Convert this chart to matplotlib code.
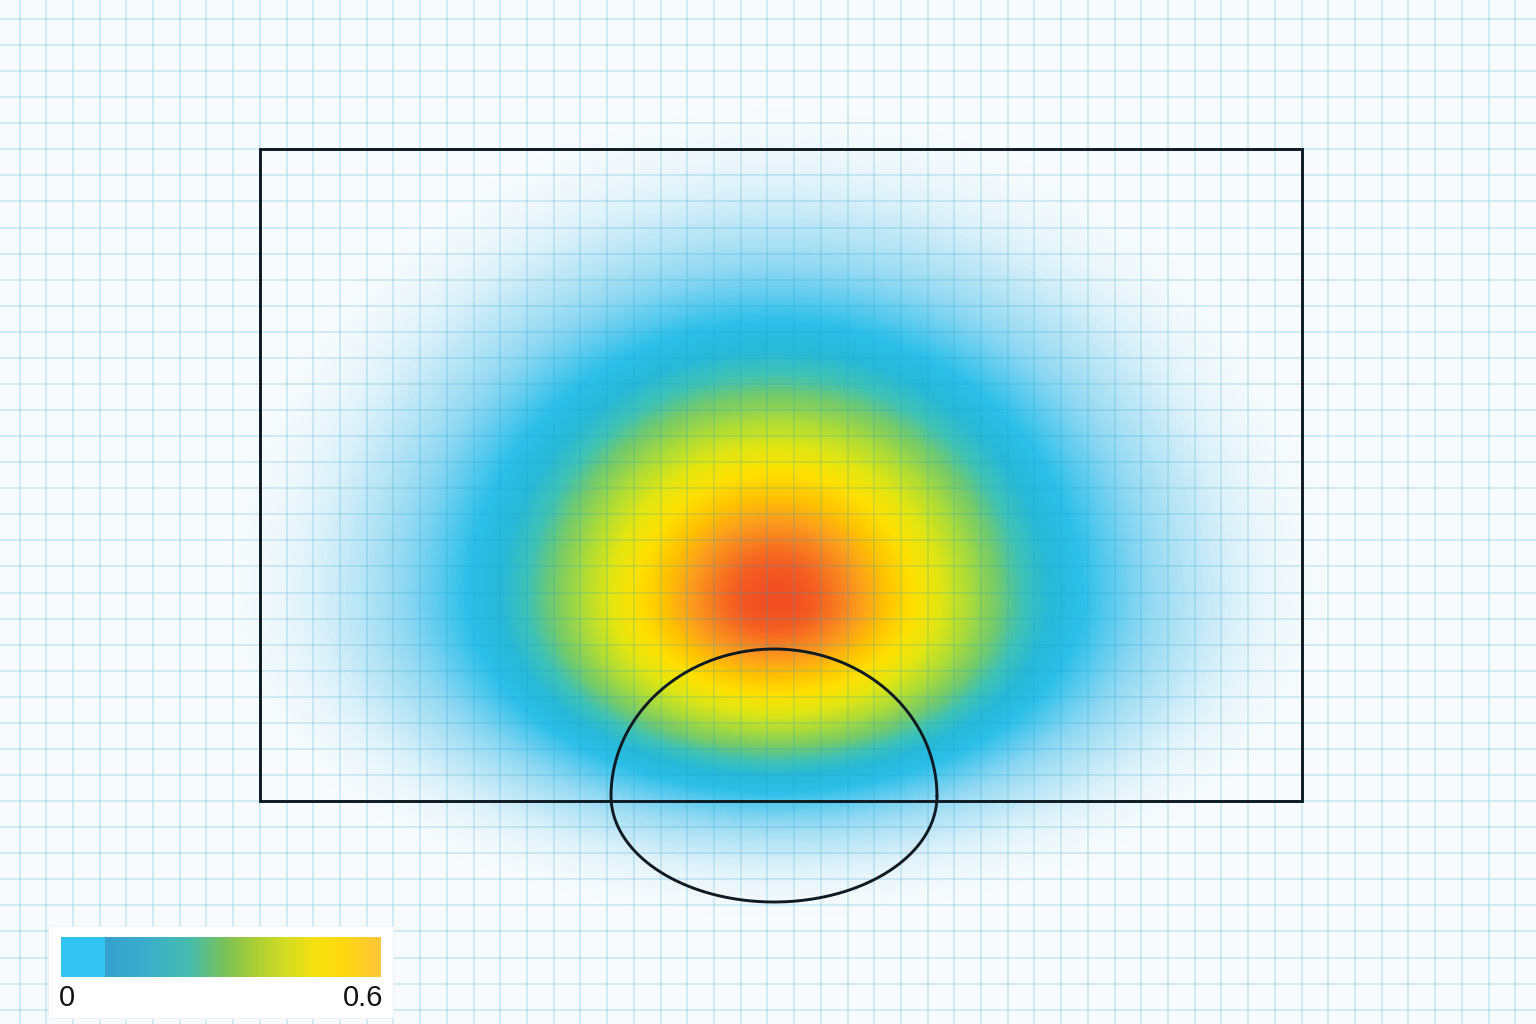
import numpy as np
import matplotlib
matplotlib.use("Agg")
import matplotlib.pyplot as plt
from matplotlib.colors import LinearSegmentedColormap, to_rgba
from matplotlib.patches import Rectangle

# ---------------- data (pixel-space coordinates of the chart) ----------------
# heat field components: centre x, centre y, sigma x, sigma y (up / down), amplitude
blob_cx = [775, 775]
blob_cy = [600, 600]
blob_sx = [275, 115]
blob_sy_up = [245, 108]
blob_sy_down = [158, 84]
blob_amp = [0.30, 0.39]

# grid (graph-paper) layout
grid_x0, grid_dx = 19.5, 26.71
grid_y0, grid_dy = 19.0, 26.07

# box outline (in grid units)
box_x = [9, 48]
box_y = [5, 30]

# egg-shaped outline
egg_cx, egg_cy = 774, 796
egg_rx, egg_ry_top, egg_ry_bot = 163, 147, 106

# legend
legend_min, legend_max = 0, 0.6
legend_labels = ["0", "0.6"]

# heat colormap stops (value, colour, alpha)
heat_stops = [
    (0.000, "#eaf7fc", 0.0),
    (0.040, "#e6f5fb", 0.0),
    (0.063, "#d4eef9", 0.45),
    (0.089, "#b8e5f6", 0.85),
    (0.125, "#88d6f1", 1.0),
    (0.146, "#5ccbee", 1.0),
    (0.171, "#2cbfe8", 1.0),
    (0.203, "#28b9d8", 1.0),
    (0.238, "#40c2b4", 1.0),
    (0.275, "#74ca6c", 1.0),
    (0.330, "#b0dc36", 1.0),
    (0.390, "#e2e612", 1.0),
    (0.455, "#ffe000", 1.0),
    (0.520, "#ffc400", 1.0),
    (0.580, "#fca01c", 1.0),
    (0.630, "#f87c20", 1.0),
    (0.665, "#f55e22", 1.0),
    (0.690, "#f24f22", 1.0),
]
heat_vmax = 0.69

# legend colour ramp (fraction, colour)
legend_stops = [
    (0.000, "#33c4f4"), (0.136, "#33c4f4"), (0.137, "#36a0d0"),
    (0.26, "#3aaecb"), (0.40, "#46bcae"), (0.52, "#7ec254"),
    (0.60, "#a8cd38"), (0.70, "#d2dc24"), (0.80, "#f6e20e"),
    (0.88, "#ffd910"), (1.00, "#fec63a"),
]

# ---------------- figure ----------------
W, H = 1536, 1024
fig = plt.figure(figsize=(W / 100, H / 100), dpi=100)
fig.patch.set_facecolor("#f7fbfd")
ax = fig.add_axes([0, 0, 1, 1])
ax.set_xlim(0, W)
ax.set_ylim(H, 0)
ax.axis("off")

# heat field
xs = np.linspace(0, W, 769)
ys = np.linspace(0, H, 513)
XX, YY = np.meshgrid(xs, ys)
field = np.zeros_like(XX)
for cx, cy, sx, su, sd, a in zip(blob_cx, blob_cy, blob_sx, blob_sy_up,
                                 blob_sy_down, blob_amp):
    sy = np.where(YY < cy, su, sd)
    field += a * np.exp(-((XX - cx) ** 2 / (2 * sx ** 2) + (YY - cy) ** 2 / (2 * sy ** 2)))

heat_cmap = LinearSegmentedColormap.from_list(
    "heat", [(v / heat_vmax, to_rgba(c, al)) for v, c, al in heat_stops])
ax.imshow(field, extent=(0, W, H, 0), origin="upper", cmap=heat_cmap,
          vmin=0, vmax=heat_vmax, interpolation="bilinear", zorder=1, aspect="auto")

# graph-paper grid on top
gx = grid_x0 + grid_dx * np.arange(0, 60)
gx = gx[gx < W]
gy = grid_y0 + grid_dy * np.arange(0, 40)
gy = gy[gy < H]
ax.vlines(gx, 0, H, color="#1aa0d0", alpha=0.22, lw=1.1, zorder=2)
ax.hlines(gy, 0, W, color="#1aa0d0", alpha=0.22, lw=1.1, zorder=2)

# box outline
bx0 = grid_x0 + grid_dx * box_x[0]
bx1 = grid_x0 + grid_dx * box_x[1]
by0 = grid_y0 + grid_dy * box_y[0]
by1 = grid_y0 + grid_dy * box_y[1]
ax.add_patch(Rectangle((bx0, by0), bx1 - bx0, by1 - by0, fill=False,
                       edgecolor="#0e1a22", lw=2.1, zorder=4))

# egg outline
t = np.linspace(0, 2 * np.pi, 600)
ry = np.where(np.sin(t) > 0, egg_ry_top, egg_ry_bot)
ex = egg_cx + egg_rx * np.cos(t)
ey = egg_cy - ry * np.sin(t)
ax.plot(ex, ey, color="#0e1a22", lw=2.1, zorder=4, solid_capstyle="round")

# legend box
ax.add_patch(Rectangle((48, 926), 345, 92, facecolor="white", edgecolor="#eef2f4",
                       lw=0.6, zorder=5))
leg_cmap = LinearSegmentedColormap.from_list("leg", legend_stops, N=512)
grad = np.linspace(legend_min, legend_max, 400).reshape(1, -1)
ax.imshow(grad, extent=(61, 381, 977, 937), origin="upper", cmap=leg_cmap,
          vmin=legend_min, vmax=legend_max, aspect="auto", zorder=6,
          interpolation="bilinear")
ax.text(59, 1006, legend_labels[0], ha="left", va="baseline", fontsize=21,
        family="Liberation Sans", color="#111111", zorder=7)
ax.text(383, 1006, legend_labels[1], ha="right", va="baseline", fontsize=21,
        family="Liberation Sans", color="#111111", zorder=7)

fig.savefig("out.png", dpi=100, facecolor=fig.get_facecolor())
